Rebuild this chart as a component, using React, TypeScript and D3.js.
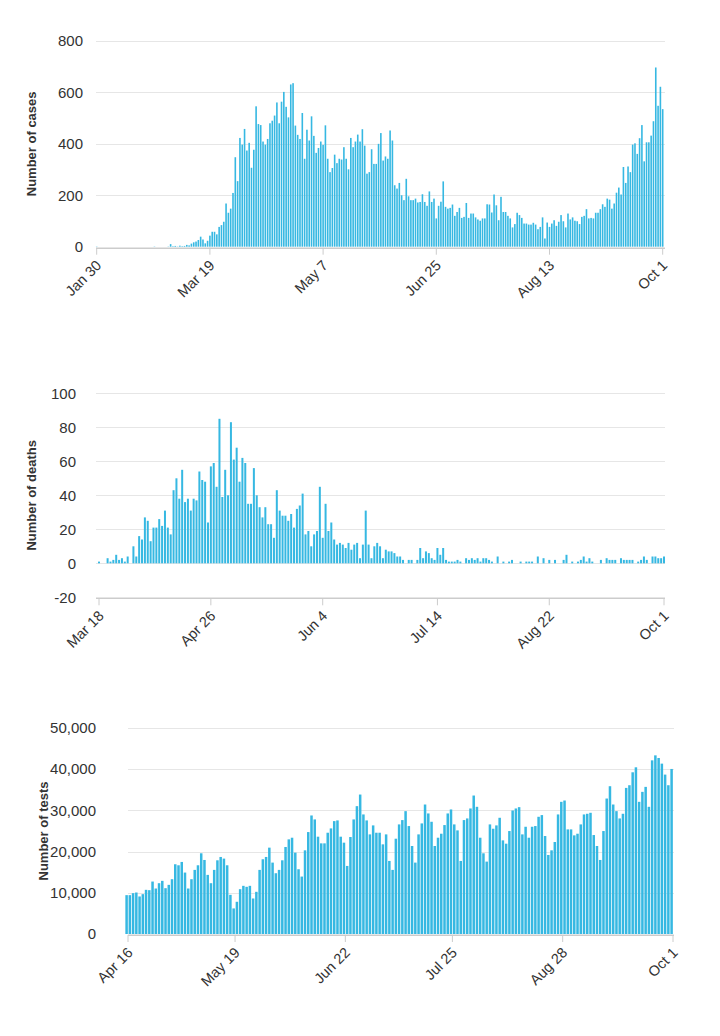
import React from "react";
import * as d3 from "d3";

// ---------- DATA ----------
const caseStart = "2020-01-30";
const cases = [
  1,0,0,0,0,0,0,0,0,0, 0,0,0,0,0,0,0,0,0,0, 0,0,0,0,0,1,0,0,0,0, 0,1,10,2,3,1,4,2,3,7, 5,12,
  17,20,26,39,28,13,23,43,58,58,48,77,84,97,168,132,148,209,
  348,255,423,397,458,374,404,307,377,546, 477,473,409,397,419,480,490,510,561,480,
  564,602,544,503,631,636,471,435,419,520, 342,455,413,507,431,365,384,409,396,472,
  342,290,306,358,325,342,339,387,342,301, 423,387,409,436,409,457,393,284,290,379, 322,322,
  400,442,335,351,342,452,413,239,226,248, 200,181,264,196,181,181,187,172,174,204,
  174,159,215,174,187,110,159,175,254,155, 148,151,164,120,135,151,112,116,170,112,
  129,129,114,106,101,110,110,165,164,133, 203,161,103,194,135,135,120,110,75,88,
  132,123,112,90,90,
  86,86,93,86,68,77,114,32,94,77, 90,103,81,97,123,99,75,129,106,114,
  101,99,88,116,120,146,110,112,110,132, 132,146,165,155,187,183,148,168,210,230,
  203,310,248,312,290,397,402,361,422,473, 332,406,406,432,488,697,548,622,535,
];
const caseTicks = ["2020-01-30", "2020-03-19", "2020-05-07", "2020-06-25", "2020-08-13", "2020-10-01"];
const caseYTicks = [0, 200, 400, 600, 800];

const deathStart = "2020-03-18";
const deaths = [
  1,0,0,3,1,2,5,2,3,1, 4,0,10,4,16,14,27,25,13,21, 21,26,22,31,21,17,43,50,38,55,
  36,38,31,38,37,54,49,48,24,57, 59,45,85,39,55,40,83,61,68,48, 62,
  59,35,35,56,40,33,27,33,23,23, 15,43,31,28,28,25,29,21,32,34, 41,17,19,10,17,19,45,15,35,19,
  24,14,11,12,11,9,12,8,11,12, 3,11,31,11,3,10,12,10,3,8,
  7,7,6,4,4,2,0,2,2,0, 2,9,3,7,6,3,2,9,5,9, 2,1,1,1,2,1,0,3,2,3, 2,3,1,3,3,2,1,0,4,0,
  1,0,1,2,0,0,1,0,1,1,
  1,0,4,0,3,0,2,0,2,0, 0,2,5,0,1,0,1,2,4,1, 3,1,0,0,2,0,3,2,2,2, 0,3,2,2,2,2,0,1,2,4,
  2,0,4,4,3,3,4,
];
const deathTicks = ["2020-03-18", "2020-04-26", "2020-06-04", "2020-07-14", "2020-08-22", "2020-10-01"];
const deathYTicks = [-20, 0, 20, 40, 60, 80, 100];

const testStart = "2020-04-16";
const tests = [
  9430,9430,9910,10070,9110,9670,10720,10640,12730,11040, 12330,12900,11120,11930,13300,16930,16680,17490,14910,11040,
  13300,15560,16680,19590,17970,14350,12330,15560,17890,18700, 18300,16680,9510,6210,7820,10880,11690,11450,11690,8620,
  10240,15560,18140,
  18700,20960,17330,14750,15560,17890,21120,22970,23370,19750, 15720,13940,20310,24740,28770,27810,23620,22000,22000,24580,
  25630,27400,27570,23620,22170,16520,23540,27810,31030,33850, 29020,27570,24180,26360,24580,24580,21760,24180,17730,15560,
  23130,26600,27650,
  29820,26200,21360,17330,24180,26840,31430,29260,27240,21360, 23370,24340,26440,29260,30230,26600,25150,17730,27650,28050,
  30470,33610,30870,23370,19590,17570,26600,25550,26360,28210, 22730,21920,24990,29980,30470,30790,24180,26030,23370,26030,
  26200,28450,28860,
  23780,19180,20310,22330,29020,32080,32400,25390,25390,23940, 24340,26600,29020,29180,29420,24020,21360,17970,24990,32880,
  35870,31430,29820,28050,29180,35460,36110,39250,40460,32080, 34500,35710,30870,42150,43360,42720,41350,38690,36110,40060,
];
const testTicks = ["2020-04-16", "2020-05-19", "2020-06-22", "2020-07-25", "2020-08-28", "2020-10-01"];
const testYTicks = [0, 10000, 20000, 30000, 40000, 50000];

// ---------- RENDER ----------
const parse = d3.utcParse("%Y-%m-%d");
const fmtDate = d3.utcFormat("%b %-d");
const FONT = "'Liberation Sans', Arial, Helvetica, sans-serif";
const BAR = "#36b8e2";
const GRID = "#e6e6e6";
const TEXT = "#333333";

type PanelProps = {
  values: number[];
  start: string;
  ticks: string[];
  yTicks: number[];
  yFmt: (v: number) => string;
  xRange: [number, number];
  yRange: [number, number];
  gridX: [number, number];
  barW: number;
  barShift: number;
  title: string;
  titleX: number;
  labelX: number;
};

function Panel(p: PanelProps) {
  const s = parse(p.start)!;
  const last = d3.utcDay.offset(s, p.values.length - 1);
  const x = d3.scaleUtc().domain([s, last]).range(p.xRange);
  const y = d3.scaleLinear().domain([p.yTicks[0], p.yTicks[p.yTicks.length - 1]]).range(p.yRange);
  const zeroY = y(0);
  const axisY = y(p.yTicks[0]);
  const midY = (p.yRange[0] + p.yRange[1]) / 2;
  return (
    <g>
      {p.yTicks.map((t) => (
        <g key={"g" + t}>
          <line x1={p.gridX[0]} x2={p.gridX[1]} y1={Math.round(y(t)) + 0.5} y2={Math.round(y(t)) + 0.5} stroke={GRID} strokeWidth={1} />
          <text x={p.labelX} y={y(t)} dy="0.35em" textAnchor="end" fontSize={15} fill={TEXT} fontFamily={FONT}>
            {p.yFmt(t)}
          </text>
        </g>
      ))}
      <line x1={p.gridX[0]} x2={p.gridX[1]} y1={Math.round(axisY) + 1.5} y2={Math.round(axisY) + 1.5} stroke="#cccccc" strokeWidth={1} />
      {p.values.map((v, i) => {
        const d = d3.utcDay.offset(s, i);
        const cx = x(d) + p.barShift;
        const yv = y(Math.max(v, 0));
        return (
          <rect key={i} x={cx - p.barW / 2} y={yv} width={p.barW} height={Math.max(0, zeroY - yv)} fill={BAR} />
        );
      })}
      {p.ticks.map((t) => {
        const d = parse(t)!;
        const tx = x(d);
        return (
          <g key={t}>
            <line x1={tx} x2={tx} y1={axisY + 1} y2={axisY + 8} stroke="#cccccc" />
            <text
              transform={`translate(${tx + 2},${axisY + 16}) rotate(-45)`}
              textAnchor="end"
              dy="0.35em"
              fontSize={14.5}
              fill={TEXT}
              fontFamily={FONT}
            >
              {fmtDate(d)}
            </text>
          </g>
        );
      })}
      <text
        transform={`translate(${p.titleX},${midY}) rotate(-90)`}
        textAnchor="middle"
        dy="0.35em"
        fontSize={13}
        fontWeight="bold"
        fill={TEXT}
        fontFamily={FONT}
      >
        {p.title}
      </text>
    </g>
  );
}

export default function App() {
  return (
    <svg
      width={720}
      height={1036}
      style={{ position: "absolute", left: 0, top: 0, background: "#fff" }}
    >
      <rect width={720} height={1036} fill="#fff" />
      <Panel
        values={cases}
        start={caseStart}
        ticks={caseTicks}
        yTicks={caseYTicks}
        yFmt={(v) => String(v)}
        xRange={[96.7, 662.7]}
        yRange={[246.7, 41]}
        gridX={[96, 665]}
        barW={1.6}
        barShift={0}
        title="Number of cases"
        titleX={31}
        labelX={83}
      />
      <Panel
        values={deaths}
        start={deathStart}
        ticks={deathTicks}
        yTicks={deathYTicks}
        yFmt={(v) => String(v)}
        xRange={[99, 664]}
        yRange={[597.3, 393.3]}
        gridX={[96, 665]}
        barW={2.0}
        barShift={0}
        title="Number of deaths"
        titleX={31}
        labelX={76}
      />
      <Panel
        values={tests}
        start={testStart}
        ticks={testTicks}
        yTicks={testYTicks}
        yFmt={d3.format(",")}
        xRange={[128, 673]}
        yRange={[934, 728]}
        gridX={[128, 674]}
        barW={2.5}
        barShift={-1.4}
        title="Number of tests"
        titleX={43}
        labelX={96}
      />
    </svg>
  );
}
